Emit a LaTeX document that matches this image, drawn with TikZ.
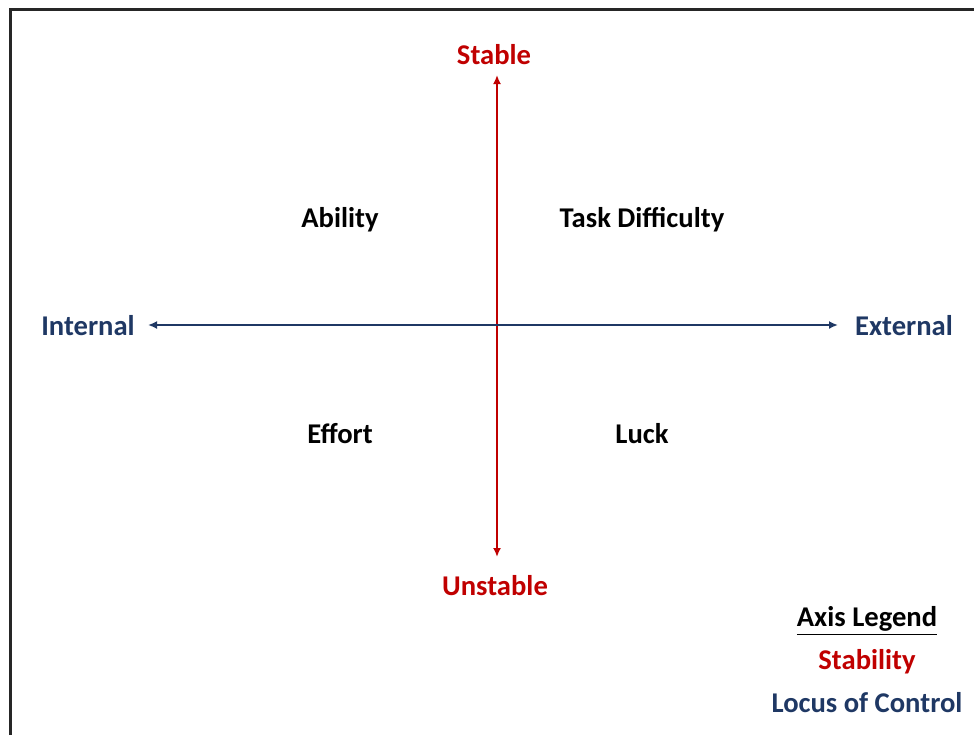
\documentclass[tikz,border=0pt]{standalone}
\usepackage{fontspec}
\setmainfont{Carlito}
\usetikzlibrary{arrows.meta}
\definecolor{stabred}{HTML}{C00000}
\definecolor{locblue}{HTML}{1F3864}

\begin{document}
\begin{tikzpicture}[x=0.5pt,y=-0.5pt,
  lbl/.style={font=\fontsize{14.3}{17}\selectfont\bfseries,inner sep=0pt},
  axisarrow/.style={line width=1.2pt,{Latex[length=4.5pt,width=4pt]}-{Latex[length=4.5pt,width=4pt]}}]
\useasboundingbox (0,0) rectangle (974,735);
\draw[line width=1.5pt,black!85] (10,735) -- (10,9) -- (974,9);
\coordinate(stabtop) at (497,75);
\coordinate(stabbot) at (497,557);
\coordinate(locleft) at (148,325);
\coordinate(locright) at (838,325);
\node(stable)[lbl,text=stabred] at (494,55){Stable};
\node(unstable)[lbl,text=stabred] at (495,586){Unstable};
\node(internal)[lbl,text=locblue] at (88,326){Internal};
\node(external)[lbl,text=locblue] at (904,326){External};
\node(ability)[lbl] at (340,220){Ability};
\node(task)[lbl] at (642,220){Task Difficulty};
\node(effort)[lbl] at (340,434){Effort};
\node(luck)[lbl] at (642,434){Luck};
\node(legend)[lbl] at (867,621){\underline{Axis Legend}};
\node(stability)[lbl,text=stabred] at (867,662){Stability};
\node(locus)[lbl,text=locblue] at (867,703){Locus of Control};
\path[draw,axisarrow,stabred] (stabbot) -- (stabtop);
\path[draw,axisarrow,locblue] (locleft) -- (locright);
\end{tikzpicture}
\end{document}
